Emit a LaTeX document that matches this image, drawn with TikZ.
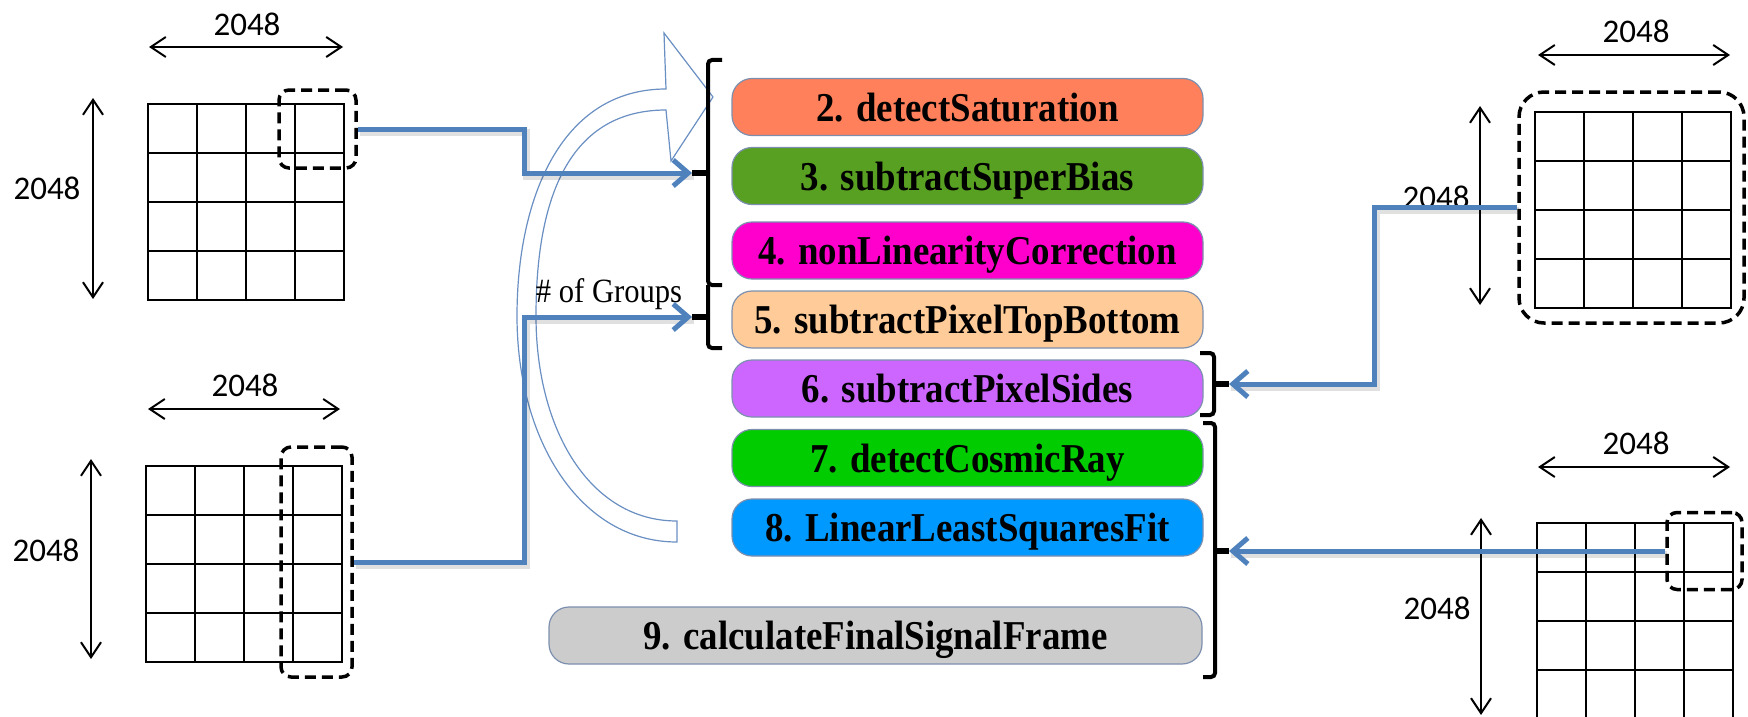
\documentclass[tikz,border=0pt]{standalone}
\usepackage{fontspec}
\setmainfont{Liberation Serif}
\newfontfamily\dimfont{Carlito}
\newfontfamily\stepfont[FakeStretch=0.9]{Liberation Serif}
\usetikzlibrary{arrows.meta}

\definecolor{flowblue}{HTML}{4F81BD}
\definecolor{loopblue}{HTML}{6A8FC2}
\definecolor{boxedge}{HTML}{7D8FAE}
\definecolor{cSat}{HTML}{FF805A}
\definecolor{cBias}{HTML}{58A021}
\definecolor{cLin}{HTML}{FF00CC}
\definecolor{cTB}{HTML}{FFCC99}
\definecolor{cSide}{HTML}{CC66FF}
\definecolor{cCR}{HTML}{00CC00}
\definecolor{cFit}{HTML}{0099FF}
\definecolor{cFinal}{HTML}{CCCCCC}

% 4x4 detector grid, top-left corner at (#1,#2), cells of 49 units
\newcommand\detgrid[2]{%
  \foreach \i in {0,...,4} {
    \draw[gridline] (#1+49*\i,#2) -- (#1+49*\i,#2+196);
    \draw[gridline] (#1,#2+49*\i) -- (#1+196,#2+49*\i);
  }}

\begin{document}
\begin{tikzpicture}[x=1pt,y=-1pt,
  gridline/.style={line width=2.4pt, line cap=rect},
  dimline/.style={line width=2pt,
    {Straight Barb[length=15pt,width=20pt]}-{Straight Barb[length=15pt,width=20pt]}},
  dimlabel/.style={font=\dimfont\fontsize{33}{40}\selectfont, inner sep=0pt},
  selbox/.style={draw, line width=3.5pt, dash pattern=on 11pt off 6pt,
    rounded corners=10pt, inner sep=0pt},
  stepbox/.style={draw=boxedge, line width=1.2pt, rounded corners=20pt,
    minimum width=471pt, minimum height=57pt, inner sep=0pt,
    text height=36pt, text depth=8pt,
    font=\stepfont\bfseries\fontsize{41}{48}\selectfont},
  brk/.style={line width=4pt, rounded corners=4pt},
  tick/.style={line width=6pt},
  flow/.style={draw=flowblue, line width=5pt,
    -{Straight Barb[length=15pt,width=26pt]}},
  flowshadow/.style={draw=black, opacity=0.12, line width=7pt,
    transform canvas={xshift=2pt,yshift=-3pt}},
  loop/.style={draw=loopblue, line width=1.2pt, fill=white}]

\useasboundingbox (0,0) rectangle (1748,717);

% ---- group loop arrow ----
\draw[loop] (677,542) -- (677,521)
  .. controls (590,521) and (536,430) .. (536,316)
  .. controls (536,215) and (560,110) .. (666,110)
  -- (671,161) -- (713,97) -- (664,33) -- (666,89)
  .. controls (560,89) and (517,200) .. (517,316)
  .. controls (517,440) and (580,542) .. (677,542) -- cycle;
\node[font=\stepfont\fontsize{34}{40}\selectfont, anchor=base, inner sep=0pt]
  (groups) at (609,302) {\# of Groups};

% ---- detector frames ----
\detgrid{148}{104}
\detgrid{146}{466}
\detgrid{1535}{112}
\detgrid{1537}{523}

% dimension arrows and labels
\draw[dimline] (149,47) -- (343,47);
\node[dimlabel] (tlw) at (247,24) {2048};
\draw[dimline] (93,98) -- (93,299);
\node[dimlabel] (tlh) at (47,188) {2048};

\draw[dimline] (148,409) -- (340,409);
\node[dimlabel] (blw) at (245,385) {2048};
\draw[dimline] (91,459) -- (91,659);
\node[dimlabel] (blh) at (46,550) {2048};

\draw[dimline] (1538,55) -- (1730,55);
\node[dimlabel] (trw) at (1636,31) {2048};
\draw[dimline] (1480,106) -- (1480,305);
\node[dimlabel] (trh) at (1436,197) {2048};

\draw[dimline] (1538,467) -- (1730,467);
\node[dimlabel] (brw) at (1636,443) {2048};
\draw[dimline] (1481,518) -- (1481,715);
\node[dimlabel] (brh) at (1437,608) {2048};

% selected regions
\node[selbox, minimum width=77pt, minimum height=78pt] (sel1) at (317.5,129) {};
\node[selbox, minimum width=71pt, minimum height=230pt] (sel2) at (316.5,562) {};
\node[selbox, rounded corners=25pt, minimum width=225pt, minimum height=231pt] (sel3) at (1631.5,207.5) {};
\node[selbox, minimum width=75pt, minimum height=77pt] (sel4) at (1704.5,551) {};

% ---- pipeline steps ----
\node[stepbox, fill=cSat]  (b2) at (967.5,107)   {2. detectSaturation};
\node[stepbox, fill=cBias] (b3) at (967.5,176)   {3. subtractSuperBias};
\node[stepbox, fill=cLin]  (b4) at (967.5,250.5) {4. nonLinearityCorrection};
\node[stepbox, fill=cTB]   (b5) at (967.5,319.5) {5. subtractPixelTopBottom};
\node[stepbox, fill=cSide] (b6) at (967.5,388.5) {6. subtractPixelSides};
\node[stepbox, fill=cCR]   (b7) at (967.5,458)   {7. detectCosmicRay};
\node[stepbox, fill=cFit]  (b8) at (967.5,527.5) {8. LinearLeastSquaresFit};
\node[stepbox, fill=cFinal, minimum width=653pt] (b9) at (875.5,635.5) {9. calculateFinalSignalFrame};

% ---- brackets ----
\coordinate (k1) at (692,173);
\coordinate (k2) at (692,317);
\coordinate (k3) at (1229,384);
\coordinate (k4) at (1229,551);
\coordinate (jL) at (524,0);
\coordinate (jR) at (1374,0);

\draw[brk] (722,60) -- (708,60) -- (708,285) -- (722,285);
\draw[brk] (708,285) -- (708,348) -- (722,348);
\draw[tick] (k1) -- (709,173);
\draw[tick] (k2) -- (709,317);

\draw[brk] (1200,353) -- (1214,353) -- (1214,415) -- (1200,415);
\draw[brk] (1203,423) -- (1215,423) -- (1215,677) -- (1203,677);
\draw[tick] (1213,384) -- (k3);
\draw[tick] (1214,551) -- (k4);

% ---- data flow ----
\draw[flowshadow] (sel1.east) -| (jL |- k1) -- (k1);
\draw[flowshadow] (sel2.east) -| (jL |- k2) -- (k2);
\draw[flowshadow] (sel3.west) -| (jR |- k3) -- (k3);
\draw[flowshadow] (sel4.west) -- (k4);

\draw[flow] (sel1.east) -| (jL |- k1) -- (k1);
\draw[flow] (sel2.east) -| (jL |- k2) -- (k2);
\draw[flow] (sel3.west) -| (jR |- k3) -- (k3);
\draw[flow] (sel4.west) -- (k4);
\end{tikzpicture}
\end{document}
